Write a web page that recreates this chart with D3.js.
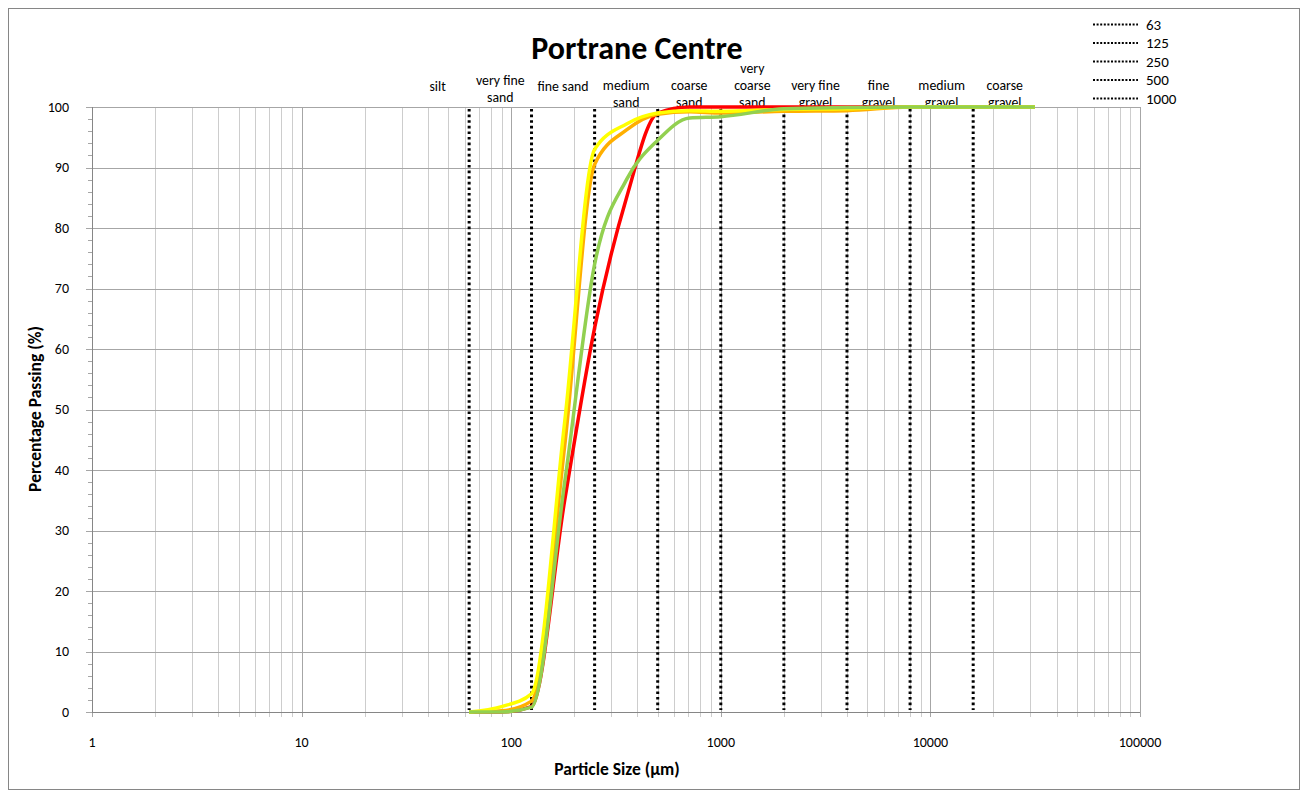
<!DOCTYPE html>
<html>
<head>
<meta charset="utf-8">
<script src="https://cdn.jsdelivr.net/npm/d3@7"></script>
<style>
  body { margin: 0; background: #fff; }
  svg { display: block; font-family: Carlito, Lato, "Open Sans", sans-serif; }
</style>
</head>
<body>
<svg id="chart" width="1309" height="795"></svg>
<script>
// sieve sizes (µm) and percentage passing for each sample
const sizes = [63, 90, 125, 180, 250, 355, 500, 710, 1000, 2000, 4000, 8000, 16000, 31500];
const redSample = [0, 0, 0.9, 35, 63.5, 85, 99, 100, 100, 100, 100, 100, 100, 100];
const orangeSample = [0, 0.2, 1.8, 44, 90.5, 96.2, 98.8, 99.2, 99, 99.3, 99.4, 100, 100, 100];
const yellowSample = [0, 0.9, 3, 48, 93, 97.2, 99, 99.4, 99.3, 99.6, 99.7, 100, 100, 100];
const greenSample = [0, 0, 0.8, 38, 74, 88, 94.5, 98.2, 98.4, 99.7, 99.9, 100, 100, 100];

// Wentworth class boundaries and names
const classBounds = [31.5, 63, 125, 250, 500, 1000, 2000, 4000, 8000, 16000, 32000];
const classNames = [
  ["silt"], ["very fine", "sand"], ["fine sand"], ["medium", "sand"], ["coarse", "sand"],
  ["very", "coarse", "sand"], ["very fine", "gravel"], ["fine", "gravel"],
  ["medium", "gravel"], ["coarse", "gravel"]
];
const dividerSizes = [63, 125, 250, 500, 1000, 2000, 4000, 8000, 16000];
const legendLabels = ["63", "125", "250", "500", "1000"];
const xTickLabels = [1, 10, 100, 1000, 10000, 100000];
const yTickValues = [0, 10, 20, 30, 40, 50, 60, 70, 80, 90, 100];

const series = [
  { values: redSample, color: "#FF0000" },
  { values: orangeSample, color: "#FFAF00" },
  { values: yellowSample, color: "#FFFF00" },
  { values: greenSample, color: "#92D050" }
];

const svg = d3.select("#chart");
const margin = { left: 92, right: 1140, top: 107, bottom: 712 };

const x = d3.scaleLog().domain([1, 100000]).range([margin.left, margin.right]);
const y = d3.scaleLinear().domain([0, 100]).range([margin.bottom, margin.top]);

// outer chart border
svg.append("rect")
  .attr("x", 8.5).attr("y", 8.5)
  .attr("width", 1291).attr("height", 781)
  .attr("fill", "#fff").attr("stroke", "#868686").attr("stroke-width", 1);

// minor vertical gridlines
const minorX = [];
for (let d = 1; d < 100000; d *= 10) {
  for (let k = 2; k <= 9; k++) minorX.push(d * k);
}
svg.append("g").selectAll("line").data(minorX).join("line")
  .attr("x1", d => Math.round(x(d)) + 0.5).attr("x2", d => Math.round(x(d)) + 0.5)
  .attr("y1", margin.top).attr("y2", margin.bottom + 5)
  .attr("stroke", "#CDCDCD");

// major vertical gridlines
svg.append("g").selectAll("line").data(xTickLabels).join("line")
  .attr("x1", d => Math.round(x(d)) + 0.5).attr("x2", d => Math.round(x(d)) + 0.5)
  .attr("y1", margin.top).attr("y2", margin.bottom + 5)
  .attr("stroke", "#A6A6A6");

// horizontal gridlines
svg.append("g").selectAll("line").data(yTickValues).join("line")
  .attr("x1", margin.left - 6).attr("x2", margin.right)
  .attr("y1", d => Math.round(y(d)) + 0.5).attr("y2", d => Math.round(y(d)) + 0.5)
  .attr("stroke", "#A6A6A6");

// y axis line and minor ticks
svg.append("line")
  .attr("x1", margin.left + 0.5).attr("x2", margin.left + 0.5)
  .attr("y1", margin.top).attr("y2", margin.bottom)
  .attr("stroke", "#868686");
svg.append("g").selectAll("line").data(d3.range(0, 101, 2).filter(v => v % 10)).join("line")
  .attr("x1", margin.left - 4).attr("x2", margin.left)
  .attr("y1", d => Math.round(y(d)) + 0.5).attr("y2", d => Math.round(y(d)) + 0.5)
  .attr("stroke", "#A6A6A6");

// x axis line
svg.append("line")
  .attr("x1", margin.left).attr("x2", margin.right)
  .attr("y1", margin.bottom + 0.5).attr("y2", margin.bottom + 0.5)
  .attr("stroke", "#868686");

// tick labels
svg.append("g").selectAll("text").data(yTickValues).join("text")
  .attr("x", 69).attr("y", d => y(d))
  .attr("dy", "0.35em").attr("text-anchor", "end")
  .attr("font-size", 14).attr("fill", "#000")
  .text(d => d);

svg.append("g").selectAll("text").data(xTickLabels).join("text")
  .attr("x", d => x(d)).attr("y", margin.bottom + 30)
  .attr("dy", "0.35em").attr("text-anchor", "middle")
  .attr("font-size", 14).attr("fill", "#000")
  .text(d => d);

// axis titles
svg.append("text")
  .attr("x", 617).attr("y", 769).attr("dy", "0.35em")
  .attr("text-anchor", "middle").attr("font-size", 17.5).attr("font-weight", "bold")
  .text("Particle Size (µm)");
svg.append("text")
  .attr("transform", "translate(35,409) rotate(-90)")
  .attr("dy", "0.35em")
  .attr("text-anchor", "middle").attr("font-size", 17.5).attr("font-weight", "bold")
  .text("Percentage Passing (%)");

// title
svg.append("text")
  .attr("x", 637).attr("y", 48).attr("dy", "0.35em")
  .attr("text-anchor", "middle").attr("font-size", 32).attr("font-weight", "bold")
  .text("Portrane Centre");

// class divider lines (dotted)
svg.append("g").selectAll("line").data(dividerSizes).join("line")
  .attr("x1", d => x(d)).attr("x2", d => x(d))
  .attr("y1", y(100) + 2).attr("y2", y(0) - 2)
  .attr("stroke", "#000").attr("stroke-width", 3)
  .attr("stroke-dasharray", "2.6,3");

// class names, centred between boundaries
const classes = classNames.map((lines, i) => ({
  lines,
  pos: Math.sqrt(classBounds[i] * classBounds[i + 1])
}));
const lineGap = 17;
svg.append("g").selectAll("text").data(classes).join("text")
  .attr("text-anchor", "middle").attr("font-size", 13.8)
  .attr("transform", d => {
    const n = d.lines.length;
    const baseY = n === 1 ? 86 : 102 - (n - 1) * lineGap;
    const shift = d.lines[0] === "very fine" && d.lines[1] === "sand" ? -5 : 0;
    return `translate(${x(d.pos)},${baseY + shift})`;
  })
  .selectAll("tspan").data(d => d.lines).join("tspan")
  .attr("x", 0).attr("y", (d, i) => i * lineGap)
  .attr("dy", "0.35em")
  .text(d => d);

// sample curves
svg.append("clipPath").attr("id", "plot-clip")
  .append("rect")
  .attr("x", margin.left).attr("y", margin.top - 3)
  .attr("width", margin.right - margin.left).attr("height", margin.bottom - margin.top + 6);

const line = d3.line()
  .x((d, i) => x(sizes[i]))
  .y(d => y(d))
  .curve(d3.curveMonotoneX);

svg.append("g").attr("clip-path", "url(#plot-clip)")
  .selectAll("path").data(series).join("path")
  .attr("d", d => line(d.values))
  .attr("fill", "none")
  .attr("stroke", d => d.color)
  .attr("stroke-width", 3.5)
  .attr("stroke-linejoin", "round");

// legend for the divider lines
const legend = svg.append("g").selectAll("g").data(legendLabels).join("g")
  .attr("transform", (d, i) => `translate(1093,${24.5 + i * 18.5})`);
legend.append("line")
  .attr("x1", 0).attr("x2", 45).attr("y1", 0).attr("y2", 0)
  .attr("stroke", "#000").attr("stroke-width", 2)
  .attr("stroke-dasharray", "2,1.6");
legend.append("text")
  .attr("x", 53).attr("y", 0).attr("dy", "0.35em")
  .attr("font-size", 15)
  .text(d => d);
</script>
</body>
</html>
